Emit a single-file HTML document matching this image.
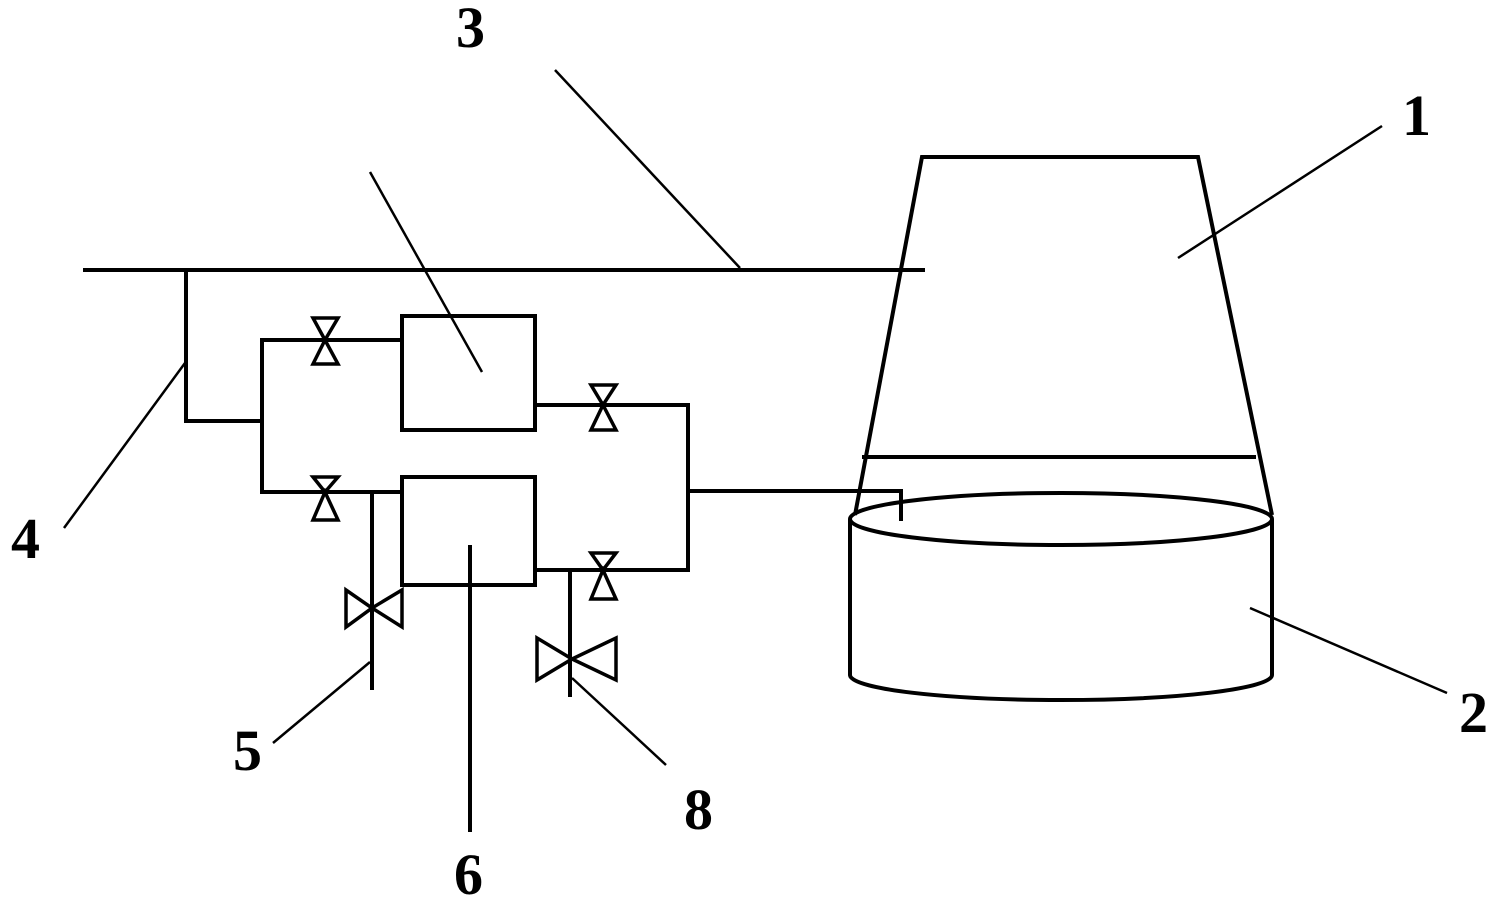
<!DOCTYPE html>
<html><head><meta charset="utf-8"><style>
html,body{margin:0;padding:0;background:#fff;}
svg{display:block;}
text{font-family:"Liberation Serif",serif;font-weight:bold;font-size:58px;fill:#000;}
</style></head><body>
<svg width="1504" height="904" viewBox="0 0 1504 904" xmlns="http://www.w3.org/2000/svg">
<g stroke="#000" stroke-width="4" fill="none" stroke-linejoin="miter">
<!-- main line 3 -->
<line x1="83" y1="270" x2="925" y2="270"/>
<!-- branch 4 -->
<polyline points="186,270 186,421 262,421"/>
<polyline points="402,340 262,340 262,492 402,492"/>
<!-- boxes -->
<rect x="402" y="316" width="133" height="114"/>
<rect x="402" y="477" width="133" height="108"/>
<!-- right pipes -->
<polyline points="535,405 688,405 688,570 535,570"/>
<polyline points="688,491 901,491 901,521"/>
<!-- drains -->
<line x1="372" y1="492" x2="372" y2="690"/>
<line x1="570" y1="570" x2="570" y2="697"/>
<line x1="470" y1="545" x2="470" y2="832"/>
<!-- tower -->
<polyline points="855,515 922,157 1198,157 1272,515"/>
<line x1="862" y1="457" x2="1256" y2="457"/>
<ellipse cx="1061" cy="519" rx="211" ry="26"/>
<path d="M850,519 L850,675 A211,25 0 0 0 1272,675 L1272,519"/>
</g>
<!-- valves -->
<g stroke="#000" stroke-width="3.5" fill="#fff">
<path d="M313,318 L338,318 L325,340 Z M313,364 L338,364 L325,340 Z"/>
<path d="M313,477 L338,477 L325,492 Z M313,520 L338,520 L325,492 Z"/>
<path d="M591,385 L616,385 L603,405 Z M591,430 L616,430 L603,405 Z"/>
<path d="M591,553 L616,553 L603,570 Z M591,599 L616,599 L603,570 Z"/>
<path d="M346,590 L346,627 L372,608 Z M402,590 L402,627 L372,608 Z"/>
<path d="M537,638 L537,680 L572,659 Z M616,638 L616,680 L572,659 Z"/>
</g>
<!-- leaders -->
<g stroke="#000" stroke-width="2.5">
<line x1="555" y1="70" x2="740" y2="268"/>
<line x1="370" y1="172" x2="482" y2="372"/>
<line x1="64" y1="528" x2="185" y2="363"/>
<line x1="273" y1="743" x2="370" y2="662"/>
<line x1="572" y1="678" x2="666" y2="765"/>
<line x1="1382" y1="126" x2="1178" y2="258"/>
<line x1="1250" y1="608" x2="1447" y2="693"/>
</g>
<text x="456" y="47">3</text>
<text x="1402" y="135">1</text>
<text x="11" y="558">4</text>
<text x="233" y="770">5</text>
<text x="454" y="894">6</text>
<text x="684" y="829">8</text>
<text x="1459" y="732">2</text>
</svg>
</body></html>
